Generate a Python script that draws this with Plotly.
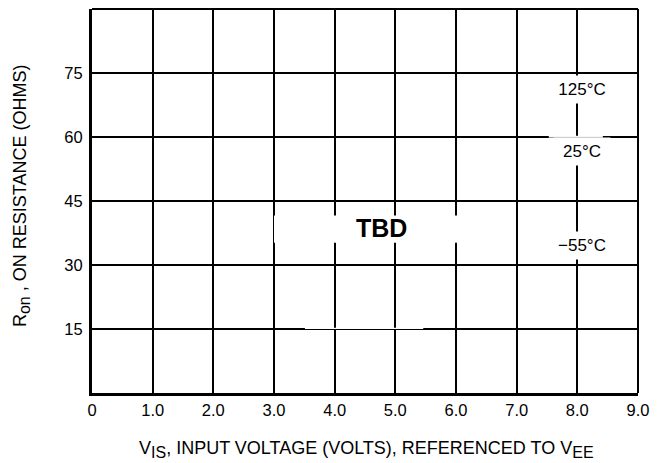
import plotly.graph_objects as go

# Data
x_ticks = [0, 1, 2, 3, 4, 5, 6, 7, 8, 9]
x_tick_labels = ["0", "1.0", "2.0", "3.0", "4.0", "5.0", "6.0", "7.0", "8.0", "9.0"]
y_ticks = [15, 30, 45, 60, 75, 90]
y_tick_labels = ["15", "30", "45", "60", "75", ""]
temp_labels = ["125°C", "25°C", "\u221255°C"]
temp_label_x = [8.0, 8.0, 8.0]
temp_label_y = [71.25, 56.5, 34.6]
tbd_text = "TBD"
tbd_x = 4.78
tbd_y = 38.6

FONT = "Liberation Sans, Arial, Helvetica, sans-serif"

fig = go.Figure()
fig.add_trace(go.Scatter(x=[0, 9], y=[0, 90], mode="markers",
                         marker=dict(opacity=0), hoverinfo="skip", showlegend=False))

fig.update_layout(
    width=658, height=463,
    margin=dict(l=92, r=20, t=9, b=70),
    paper_bgcolor="white", plot_bgcolor="white",
    font=dict(family=FONT, size=16, color="black"),
    showlegend=False,
    xaxis=dict(range=[0, 9], tickvals=x_ticks, ticktext=x_tick_labels,
               showgrid=True, gridcolor="black", gridwidth=2,
               showline=True, linecolor="black", linewidth=3,
               zeroline=False, ticks="", ticklen=0,
               tickfont=dict(family=FONT, size=16.5)),
    yaxis=dict(range=[0, 90], tickvals=y_ticks, ticktext=y_tick_labels,
               showgrid=True, gridcolor="black", gridwidth=2,
               showline=True, linecolor="black", linewidth=3,
               zeroline=False, ticks="", ticklen=0, ticklabelstandoff=3,
               tickfont=dict(family=FONT, size=16.5)),
)

# borders top & right
fig.add_shape(type="line", xref="paper", yref="paper", x0=0, x1=1, y0=1, y1=1,
              line=dict(color="black", width=2), layer="above")
fig.add_shape(type="line", xref="paper", yref="paper", x0=1, x1=1, y0=0, y1=1,
              line=dict(color="black", width=2), layer="above")

# TBD white box
fig.add_shape(type="rect", x0=3.0, x1=6.02, y0=35.2, y1=41.6,
              fillcolor="white", line=dict(width=0), layer="above")
# thinner segments of grid lines
fig.add_shape(type="rect", x0=3.51, x1=5.46, y0=15.0, y1=15.3,
              fillcolor="white", line=dict(width=0), layer="above")
fig.add_shape(type="rect", x0=7.53, x1=8.42, y0=59.75, y1=60.3,
              fillcolor="white", line=dict(width=0), layer="above")
fig.add_shape(type="line", x0=7.53, x1=8.42, y0=59.9, y1=59.9,
              line=dict(color="#777", width=0.8), layer="above")

fig.add_annotation(x=tbd_x, y=tbd_y, text="<b>" + tbd_text + "</b>", showarrow=False,
                   font=dict(family=FONT, size=25, color="black"))

for t, xx, yy in zip(temp_labels, temp_label_x, temp_label_y):
    fig.add_annotation(x=xx, y=yy, text=t, showarrow=False, bgcolor="white",
                       width=56, height=27, borderpad=0, xshift=5,
                       font=dict(family=FONT, size=17, color="black"))

SUB = '<sub><span style="font-size:16px">{}</span></sub>'
fig.add_annotation(xref="paper", yref="paper", x=0.503, y=-0.147, yanchor="middle",
                   text="V" + SUB.format("IS") + ", INPUT VOLTAGE (VOLTS), REFERENCED TO V" + SUB.format("EE"),
                   showarrow=False, font=dict(family=FONT, size=18, color="black"))
fig.add_annotation(xref="paper", yref="paper", x=-0.13, y=0.513, xanchor="center",
                   yanchor="middle",
                   text="R" + SUB.format("on") + " , ON RESISTANCE (OHMS)", textangle=-90,
                   showarrow=False, font=dict(family=FONT, size=18, color="black"))

fig.write_html("out.html", config={"displayModeBar": False},
               post_script="document.body.style.margin='0';document.body.style.overflow='hidden';")
